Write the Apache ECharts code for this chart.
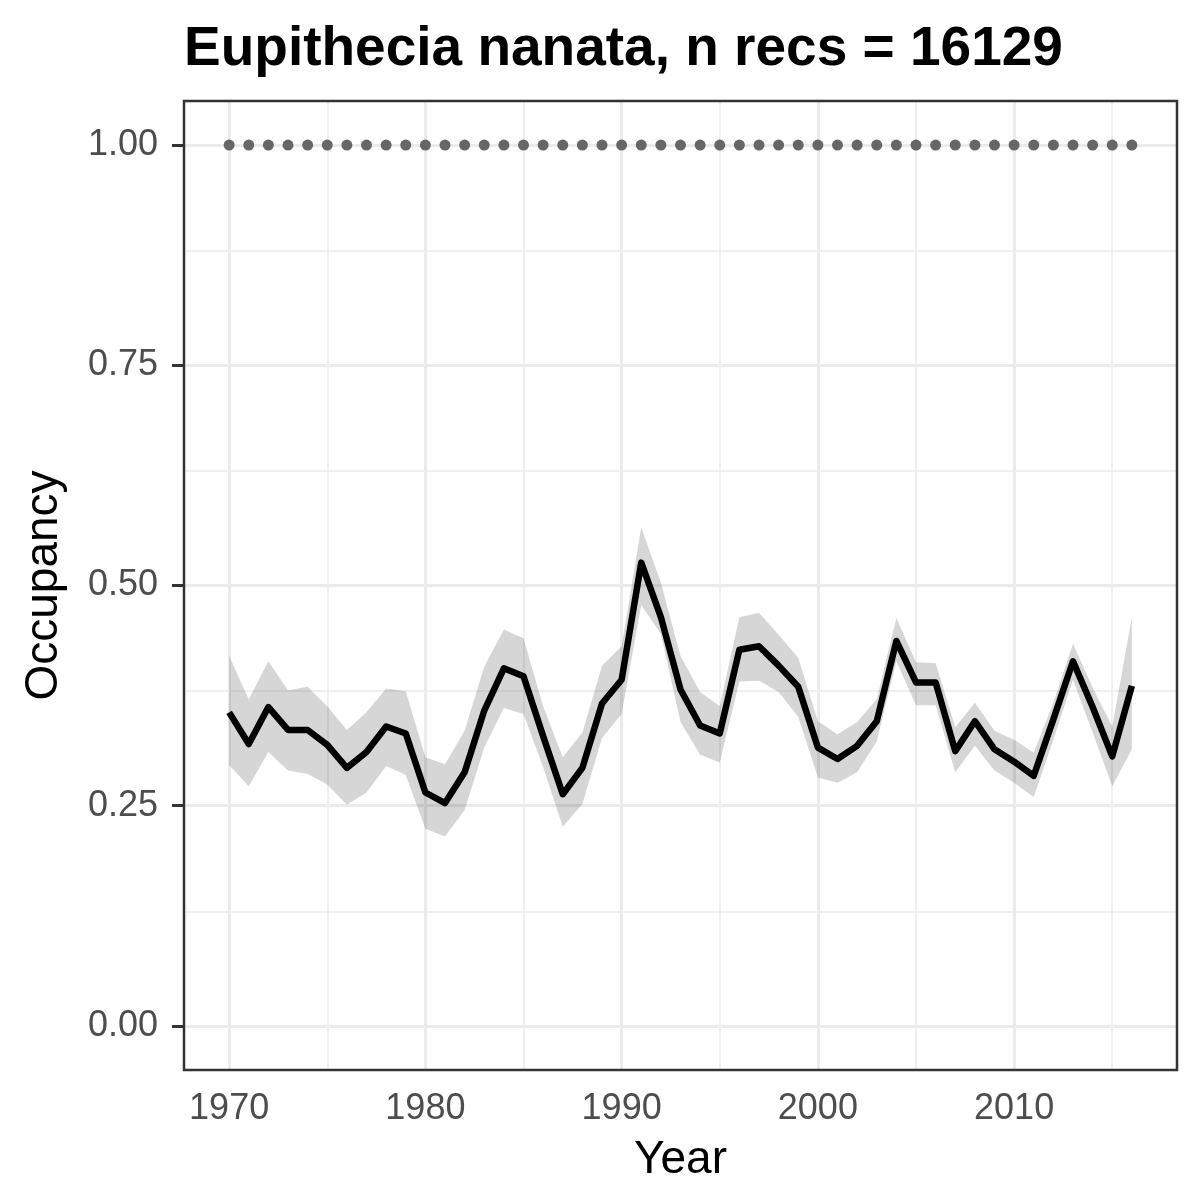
<!DOCTYPE html>
<html>
<head>
    <meta charset="UTF-8"/>
    <title>Eupithecia nanata</title>
    <script src="https://cdn.jsdelivr.net/npm/echarts@6.0.0/dist/echarts.min.js"></script>
    <style>
        html, body { margin: 0; padding: 0; background: #fff; }
        #chart { width: 1200px; height: 1200px; }
    </style>
</head>
<body>
<div id="chart"></div>
<script>
    // data
    var years = [1970, 1971, 1972, 1973, 1974, 1975, 1976, 1977, 1978, 1979,
        1980, 1981, 1982, 1983, 1984, 1985, 1986, 1987, 1988, 1989,
        1990, 1991, 1992, 1993, 1994, 1995, 1996, 1997, 1998, 1999,
        2000, 2001, 2002, 2003, 2004, 2005, 2006, 2007, 2008, 2009,
        2010, 2011, 2012, 2013, 2014, 2015, 2016];
    var occupancy = [0.356, 0.320, 0.362, 0.336, 0.336, 0.319, 0.293, 0.311, 0.340, 0.332,
        0.265, 0.253, 0.288, 0.358, 0.406, 0.397, 0.329, 0.263, 0.293, 0.366,
        0.393, 0.526, 0.464, 0.382, 0.341, 0.332, 0.427, 0.431, 0.409, 0.385,
        0.316, 0.303, 0.318, 0.346, 0.437, 0.390, 0.390, 0.312, 0.346, 0.314,
        0.300, 0.284, 0.348, 0.414, 0.362, 0.306, 0.386];
    var upper = [0.420, 0.371, 0.414, 0.381, 0.385, 0.363, 0.336, 0.356, 0.383, 0.380,
        0.305, 0.297, 0.335, 0.408, 0.450, 0.440, 0.363, 0.305, 0.333, 0.409,
        0.431, 0.566, 0.503, 0.420, 0.379, 0.363, 0.464, 0.469, 0.444, 0.418,
        0.346, 0.331, 0.345, 0.371, 0.463, 0.413, 0.412, 0.339, 0.367, 0.335,
        0.325, 0.310, 0.367, 0.434, 0.384, 0.340, 0.464];
    var lower = [0.296, 0.272, 0.311, 0.290, 0.286, 0.274, 0.251, 0.265, 0.295, 0.285,
        0.224, 0.215, 0.245, 0.316, 0.361, 0.354, 0.294, 0.226, 0.252, 0.327,
        0.354, 0.478, 0.445, 0.345, 0.308, 0.299, 0.391, 0.392, 0.379, 0.351,
        0.282, 0.276, 0.288, 0.323, 0.414, 0.364, 0.364, 0.288, 0.318, 0.290,
        0.276, 0.260, 0.325, 0.393, 0.333, 0.272, 0.314];
    var dotLevel = [1, 1, 1, 1, 1, 1, 1, 1, 1, 1,
        1, 1, 1, 1, 1, 1, 1, 1, 1, 1,
        1, 1, 1, 1, 1, 1, 1, 1, 1, 1,
        1, 1, 1, 1, 1, 1, 1, 1, 1, 1,
        1, 1, 1, 1, 1, 1, 1];

    var xTicks = [1970, 1980, 1990, 2000, 2010];
    var xMinor = [1975, 1985, 1995, 2005, 2015];
    var yTicks = [0, 0.25, 0.5, 0.75, 1];
    var yMinor = [0.125, 0.375, 0.625, 0.875];

    var font = '"Liberation Sans", Arial, sans-serif';

    function pairs(vals) {
        return years.map(function (y, i) { return [y, vals[i]]; });
    }

    // gridlines as mark lines, since the axis range does not start on a tick
    var gridLines = [];
    xTicks.forEach(function (v) { gridLines.push({ xAxis: v, lineStyle: { width: 3 } }); });
    xMinor.forEach(function (v) { gridLines.push({ xAxis: v, lineStyle: { width: 1.6 } }); });
    yTicks.forEach(function (v) { gridLines.push({ yAxis: v, lineStyle: { width: 3 } }); });
    yMinor.forEach(function (v) { gridLines.push({ yAxis: v, lineStyle: { width: 1.6 } }); });

    var myChart = echarts.init(document.getElementById('chart'));

    var option = {
        animation: false,
        backgroundColor: '#fff',
        title: {
            text: 'Eupithecia nanata, n recs = 16129',
            left: 179,
            top: 17,
            textStyle: { fontFamily: font, fontSize: 55, fontWeight: 'bold', color: '#000' }
        },
        grid: {
            left: 184,
            right: 23,
            top: 101,
            bottom: 130,
            show: true,
            z: 6,
            borderColor: '#333333',
            borderWidth: 2.5,
            backgroundColor: 'transparent'
        },
        xAxis: {
            type: 'value',
            min: 1967.7,
            max: 2018.3,
            name: 'Year',
            nameLocation: 'middle',
            nameGap: 67,
            nameTextStyle: { fontFamily: font, fontSize: 46, color: '#000' },
            axisLine: { show: false },
            splitLine: { show: false },
            minorTick: { show: false },
            axisTick: {
                show: true,
                customValues: xTicks,
                length: 12,
                lineStyle: { color: '#333333', width: 3 }
            },
            axisLabel: {
                customValues: xTicks,
                fontFamily: font,
                fontSize: 36,
                color: '#4d4d4d',
                margin: 21,
                formatter: function (v) { return String(v); }
            }
        },
        yAxis: {
            type: 'value',
            min: -0.05,
            max: 1.05,
            name: 'Occupancy',
            nameLocation: 'middle',
            nameGap: 117,
            nameTextStyle: { fontFamily: font, fontSize: 46, color: '#000' },
            axisLine: { show: false },
            splitLine: { show: false },
            minorTick: { show: false },
            axisTick: {
                show: true,
                customValues: yTicks,
                length: 12,
                lineStyle: { color: '#333333', width: 3 }
            },
            axisLabel: {
                customValues: yTicks,
                fontFamily: font,
                fontSize: 36,
                color: '#4d4d4d',
                margin: 26,
                formatter: function (v) { return v.toFixed(2); }
            }
        },
        series: [
            {
                name: 'grid',
                type: 'line',
                data: [],
                z: 1,
                silent: true,
                markLine: {
                    z: 1,
                    silent: true,
                    symbol: ['none', 'none'],
                    label: { show: false },
                    lineStyle: { color: '#ebebeb', type: 'solid' },
                    data: gridLines
                }
            },
            {
                name: 'ribbon',
                type: 'custom',
                z: 2,
                silent: true,
                data: pairs(occupancy),
                renderItem: function (params, api) {
                    if (params.dataIndex !== 0) return;
                    var pts = [];
                    for (var i = 0; i < years.length; i++) {
                        pts.push(api.coord([years[i], upper[i]]));
                    }
                    for (var j = years.length - 1; j >= 0; j--) {
                        pts.push(api.coord([years[j], lower[j]]));
                    }
                    return {
                        type: 'polygon',
                        shape: { points: pts },
                        style: { fill: 'rgba(0,0,0,0.16)' }
                    };
                }
            },
            {
                name: 'occupancy',
                type: 'line',
                z: 3,
                data: pairs(occupancy),
                symbol: 'none',
                lineStyle: { color: '#000', width: 6.5, join: 'round', cap: 'butt' }
            },
            {
                name: 'dots',
                type: 'scatter',
                z: 4,
                data: pairs(dotLevel),
                symbolSize: 11,
                itemStyle: { color: '#666666', opacity: 1 }
            }
        ]
    };
    myChart.setOption(option);
</script>
</body>
</html>
